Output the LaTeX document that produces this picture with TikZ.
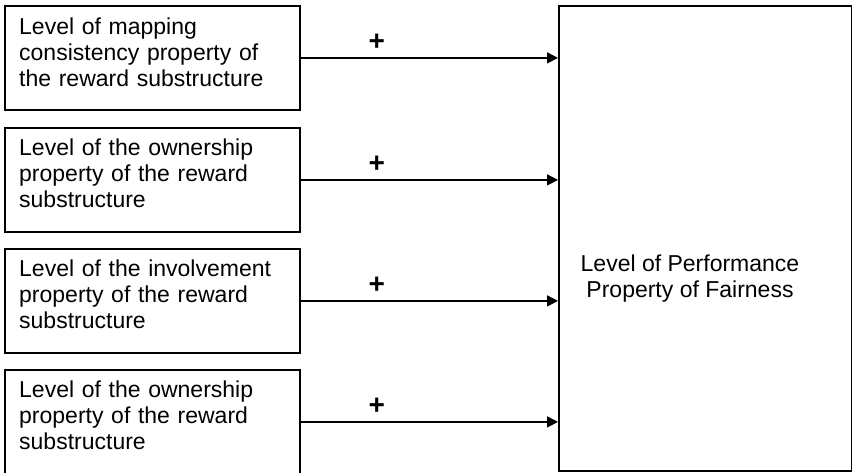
\documentclass[tikz,border=0pt]{standalone}
\usepackage{fontspec}
\setmainfont{Liberation Sans}
\usetikzlibrary{arrows.meta}
\begin{document}
\begin{tikzpicture}[x=1pt,y=-1pt,
  every node/.style={font=\fontsize{23}{26}\selectfont},
  factorbox/.style={draw, line width=1.8pt, minimum width=295pt, minimum height=104pt, inner sep=0pt, anchor=north west},
  factortext/.style={anchor=north west, inner sep=0pt, align=left, text width=270pt},
  outcomebox/.style={draw, line width=1.8pt, minimum width=293pt, minimum height=465pt, inner sep=0pt, anchor=north west},
  link/.style={line width=1.6pt, -{Triangle[length=11pt,width=11pt]}},
  sign/.style={font=\fontsize{28}{28}\selectfont\bfseries, inner sep=0pt}]
\useasboundingbox (0,0) rectangle (852,472);

% antecedent boxes
\node[factorbox] (b1) at (4,5) {};
\node[factorbox] (b2) at (4,127) {};
\node[factorbox] (b3) at (4,248) {};
\node[factorbox] (b4) at (4,369) {};

\node[factortext] (t1) at ([shift={(15,13)}]b1.north west) {Level of mapping\\consistency property of\\the reward substructure};
\node[factortext] (t2) at ([shift={(15,12)}]b2.north west) {Level of the ownership\\property of the reward\\substructure};
\node[factortext] (t3) at ([shift={(15,12)}]b3.north west) {Level of the involvement\\property of the reward\\substructure};
\node[factortext] (t4) at ([shift={(15,12)}]b4.north west) {Level of the ownership\\property of the reward\\substructure};

% outcome box
\node[outcomebox] (r) at (558,5) {};
\node[align=center, inner sep=0pt, anchor=north] (rt) at (690,255) {Level of Performance\\Property of Fairness};

% positive links
\foreach \i in {1,2,3,4} {
  \draw[link] (b\i.east) -- (b\i.east -| r.west);
  \node[sign] (s\i) at ([xshift=76pt,yshift=16pt]b\i.east) {+};
}
\end{tikzpicture}
\end{document}
